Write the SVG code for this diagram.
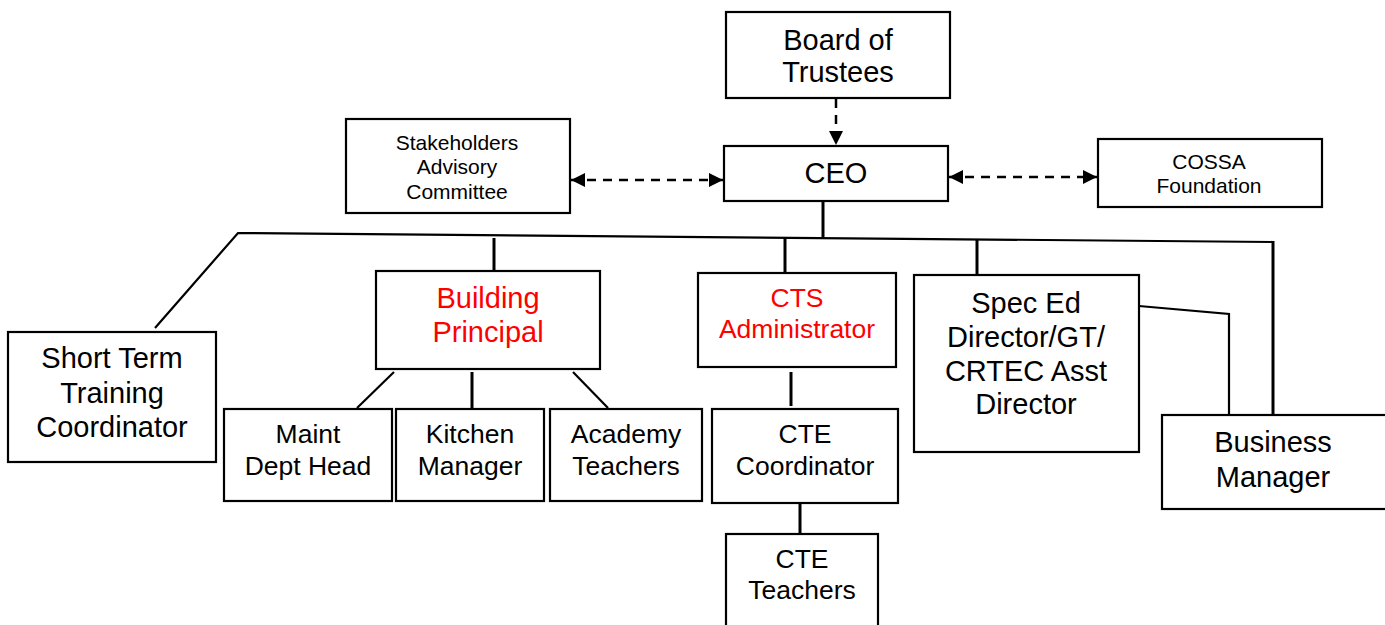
<svg xmlns="http://www.w3.org/2000/svg" width="1385" height="625" viewBox="0 0 1385 625">
<defs>
<style>
.box{fill:#fff;stroke:#000;stroke-width:2.2}
.t{font-family:"Liberation Sans",Arial,sans-serif;text-anchor:middle;fill:#000}
.L{font-size:29px}
.M{font-size:26.5px}
.S{font-size:21px}
.red{fill:#ff0000}
.ln{stroke:#000;stroke-width:2.2;fill:none}
.vl{stroke:#000;stroke-width:3;fill:none}
.dash{stroke:#000;stroke-width:2.5;fill:none;stroke-dasharray:9 7}
</style>
<marker id="ah" viewBox="0 0 10 10" refX="10" refY="5" markerWidth="15" markerHeight="14" markerUnits="userSpaceOnUse" orient="auto-start-reverse">
<path d="M0,0 L10,5 L0,10 Z" fill="#000"/>
</marker>
</defs>
<rect width="1385" height="625" fill="#fff"/>

<g id="connectors">
<line class="dash" x1="836" y1="99" x2="836" y2="145" marker-end="url(#ah)"/>
<line class="dash" x1="571" y1="180" x2="723" y2="180" marker-start="url(#ah)" marker-end="url(#ah)"/>
<line class="dash" x1="949" y1="177" x2="1097" y2="177" marker-start="url(#ah)" marker-end="url(#ah)"/>
<line class="vl" x1="823" y1="202" x2="823" y2="237"/>
<polyline class="ln" points="155,328 238,233 1273,242"/>
<line class="vl" x1="1273" y1="241" x2="1273" y2="415"/>
<line class="vl" x1="494" y1="238" x2="494" y2="271"/>
<line class="vl" x1="785" y1="238" x2="785" y2="273"/>
<line class="vl" x1="977" y1="240" x2="977" y2="275"/>
<polyline class="ln" points="1139,306 1229,314 1229,415"/>
<line class="ln" x1="394" y1="372" x2="357" y2="408"/>
<line class="vl" x1="472" y1="372" x2="472" y2="409"/>
<line class="ln" x1="573" y1="372" x2="608" y2="408"/>
<line class="vl" x1="791" y1="372" x2="791" y2="406"/>
<line class="vl" x1="800" y1="504" x2="800" y2="534"/>
</g>

<g id="board">
<rect class="box" x="726" y="12" width="224" height="86"/>
<text class="t L" x="838" y="50">Board of</text>
<text class="t L" x="838" y="82">Trustees</text>
</g>
<g id="ceo">
<rect class="box" x="724" y="146" width="224" height="55"/>
<text class="t L" x="836" y="183">CEO</text>
</g>
<g id="stakeholders">
<rect class="box" x="346" y="119" width="224" height="94"/>
<text class="t S" x="457" y="150">Stakeholders</text>
<text class="t S" x="457" y="174">Advisory</text>
<text class="t S" x="457" y="199">Committee</text>
</g>
<g id="cossa">
<rect class="box" x="1098" y="139" width="224" height="68"/>
<text class="t S" x="1209" y="169">COSSA</text>
<text class="t S" x="1209" y="193">Foundation</text>
</g>
<g id="shortterm">
<rect class="box" x="8" y="332" width="208" height="130"/>
<text class="t L" x="112" y="368">Short Term</text>
<text class="t L" x="112" y="403">Training</text>
<text class="t L" x="112" y="437">Coordinator</text>
</g>
<g id="principal">
<rect class="box" x="376" y="271" width="224" height="98"/>
<text class="t L red" x="488" y="308">Building</text>
<text class="t L red" x="488" y="342">Principal</text>
</g>
<g id="maint">
<rect class="box" x="224" y="409" width="168" height="92"/>
<text class="t M" x="308" y="443">Maint</text>
<text class="t M" x="308" y="475">Dept Head</text>
</g>
<g id="kitchen">
<rect class="box" x="396" y="409" width="148" height="92"/>
<text class="t M" x="470" y="443">Kitchen</text>
<text class="t M" x="470" y="475">Manager</text>
</g>
<g id="academy">
<rect class="box" x="550" y="409" width="152" height="92"/>
<text class="t M" x="626" y="443">Academy</text>
<text class="t M" x="626" y="475">Teachers</text>
</g>
<g id="cts">
<rect class="box" x="698" y="273" width="198" height="94"/>
<text class="t M red" x="797" y="307">CTS</text>
<text class="t M red" x="797" y="338">Administrator</text>
</g>
<g id="ctecoord">
<rect class="box" x="712" y="409" width="186" height="94"/>
<text class="t M" x="805" y="443">CTE</text>
<text class="t M" x="805" y="475">Coordinator</text>
</g>
<g id="cteteachers">
<rect class="box" x="726" y="534" width="152" height="100"/>
<text class="t M" x="802" y="568">CTE</text>
<text class="t M" x="802" y="599">Teachers</text>
</g>
<g id="speced">
<rect class="box" x="914" y="275" width="225" height="177"/>
<text class="t L" x="1026" y="313">Spec Ed</text>
<text class="t L" x="1026" y="347">Director/GT/</text>
<text class="t L" x="1026" y="381">CRTEC Asst</text>
<text class="t L" x="1026" y="414">Director</text>
</g>
<g id="business">
<rect class="box" x="1162" y="415" width="230" height="94"/>
<text class="t L" x="1273" y="452">Business</text>
<text class="t L" x="1273" y="487">Manager</text>
</g>
</svg>
